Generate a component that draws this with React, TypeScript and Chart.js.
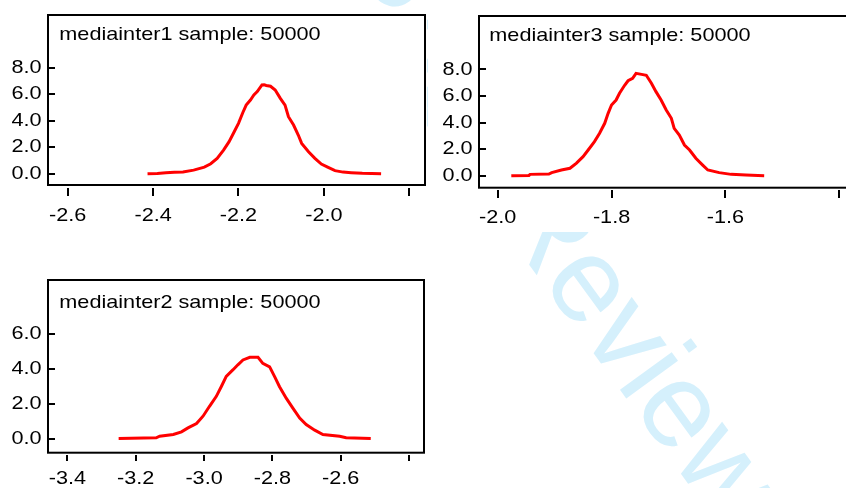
import React, { useEffect, useRef } from "react";
import { Chart, registerables } from "chart.js";

Chart.register(...registerables);

const FONT_FAMILY = '"Liberation Sans", Arial, Helvetica, sans-serif';
const FONT_SIZE = 19;
const TEXT_STRETCH = 1.14;

// ---------- data ----------
const inter1Title = "mediainter1 sample: 50000";
const inter1X = [-2.413, -2.39, -2.37, -2.35, -2.33, -2.305, -2.28, -2.265, -2.25, -2.235, -2.222, -2.21, -2.2, -2.19, -2.182, -2.172, -2.164, -2.156, -2.145, -2.14, -2.135, -2.125, -2.114, -2.102, -2.091, -2.083, -2.071, -2.06, -2.052, -2.036, -2.021, -2.006, -1.99, -1.974, -1.955, -1.936, -1.91, -1.866];
const inter1Y = [0, 0.02, 0.08, 0.1, 0.13, 0.27, 0.5, 0.75, 1.15, 1.78, 2.42, 3.17, 3.8, 4.6, 5.18, 5.56, 5.94, 6.2, 6.7, 6.72, 6.66, 6.6, 6.32, 5.69, 5.18, 4.3, 3.67, 2.92, 2.29, 1.66, 1.16, 0.73, 0.48, 0.23, 0.12, 0.08, 0.03, 0];
const inter1XTicks = [-2.6, -2.4, -2.2, -2.0, -1.8];
const inter1YTicks = [0, 2, 4, 6, 8];

const inter3Title = "mediainter3 sample: 50000";
const inter3X = [-1.976, -1.945, -1.943, -1.91, -1.905, -1.888, -1.873, -1.862, -1.85, -1.841, -1.83, -1.821, -1.812, -1.806, -1.8, -1.792, -1.786, -1.777, -1.771, -1.763, -1.757, -1.745, -1.739, -1.73, -1.722, -1.713, -1.704, -1.695, -1.69, -1.681, -1.672, -1.663, -1.652, -1.64, -1.631, -1.611, -1.59, -1.564, -1.532];
const inter3Y = [0, 0.02, 0.1, 0.12, 0.23, 0.43, 0.56, 0.93, 1.43, 1.93, 2.56, 3.19, 3.94, 4.69, 5.32, 5.69, 6.2, 6.8, 7.14, 7.32, 7.7, 7.6, 7.55, 6.95, 6.32, 5.69, 4.94, 4.32, 3.56, 3.06, 2.31, 1.93, 1.31, 0.8, 0.43, 0.23, 0.1, 0.05, 0];
const inter3XTicks = [-2.0, -1.8, -1.6, -1.4];
const inter3YTicks = [0, 2, 4, 6, 8];

const inter2Title = "mediainter2 sample: 50000";
const inter2X = [-3.25, -3.14, -3.13, -3.09, -3.066, -3.047, -3.022, -3.003, -2.984, -2.964, -2.949, -2.935, -2.915, -2.901, -2.886, -2.866, -2.842, -2.828, -2.808, -2.793, -2.779, -2.759, -2.74, -2.72, -2.701, -2.676, -2.652, -2.603, -2.584, -2.512];
const inter2Y = [0, 0.04, 0.13, 0.23, 0.38, 0.61, 0.86, 1.28, 1.85, 2.42, 3.0, 3.57, 3.95, 4.23, 4.51, 4.66, 4.66, 4.31, 4.11, 3.54, 2.97, 2.3, 1.74, 1.17, 0.8, 0.48, 0.23, 0.13, 0.04, 0];
const inter2XTicks = [-3.4, -3.2, -3.0, -2.8, -2.6, -2.4];
const inter2YTicks = [0, 2, 4, 6];

const watermarkText = "For Peer Review";

// ---------- layout ----------
type PanelSpec = {
  title: string;
  xs: number[];
  ys: number[];
  xTicks: number[];
  yTicks: number[];
  left: number;
  top: number;
  w: number;
  h: number;
  yAxisW: number;
  padTop: number;
  padRight: number;
  padBottom: number;
  xAxisH: number;
  xMin: number;
  xMax: number;
  yMin: number;
  yMax: number;
  boxGap: number;
  xTickLen: number;
  xLabelPad: number;
  titleX: number;
  titleY: number;
};

const panels: PanelSpec[] = [
  {
    title: inter1Title, xs: inter1X, ys: inter1Y, xTicks: inter1XTicks, yTicks: inter1YTicks,
    left: 0, top: 14, w: 427, h: 218,
    yAxisW: 48, padTop: 1, padRight: 2, padBottom: 4, xAxisH: 40,
    xMin: -2.6461, xMax: -1.7632, yMin: -1.08, yMax: 11.98,
    boxGap: 3, xTickLen: 8, xLabelPad: 8.6, titleX: 59.3, titleY: 25.5,
  },
  {
    title: inter3Title, xs: inter3X, ys: inter3Y, xTicks: inter3XTicks, yTicks: inter3YTicks,
    left: 428, top: 15, w: 440, h: 217,
    yAxisW: 51, padTop: 1, padRight: 12, padBottom: 2, xAxisH: 40,
    xMin: -2.0327, xMax: -1.3708, yMin: -1.075, yMax: 12.008,
    boxGap: 2.3, xTickLen: 8, xLabelPad: 8.6, titleX: 61.3, titleY: 25.7,
  },
  {
    title: inter2Title, xs: inter2X, ys: inter2Y, xTicks: inter2XTicks, yTicks: inter2YTicks,
    left: 0, top: 277, w: 427, h: 211,
    yAxisW: 48, padTop: 3, padRight: 3, padBottom: 3, xAxisH: 30,
    xMin: -3.4568, xMax: -2.3561, yMin: -0.947, yMax: 9.099,
    boxGap: 2.3, xTickLen: 6, xLabelPad: 5.9, titleX: 59.3, titleY: 30.5,
  },
];

function stretchText(ctx: any) {
  if (ctx.__stretched) return;
  const orig = ctx.fillText.bind(ctx);
  ctx.fillText = (text: string, x: number, y: number) => {
    ctx.save();
    ctx.translate(x, y);
    ctx.scale(TEXT_STRETCH, 1);
    orig(text, 0, 0);
    ctx.restore();
  };
  ctx.__stretched = true;
}

function Panel({ spec }: { spec: PanelSpec }) {
  const ref = useRef<HTMLCanvasElement>(null);
  useEffect(() => {
    const canvas = ref.current!;
    const ctx = canvas.getContext("2d")!;
    stretchText(ctx);
    const framePlugin = {
      id: "frame",
      afterDraw(chart: any) {
        const c = chart.ctx;
        const a = chart.chartArea;
        c.save();
        c.strokeStyle = "#000";
        c.lineWidth = 2;
        c.strokeRect(a.left, a.top, a.right - a.left, a.bottom - spec.boxGap - a.top);
        c.fillStyle = "#000";
        c.font = `${FONT_SIZE}px ${FONT_FAMILY}`;
        c.textAlign = "left";
        c.textBaseline = "alphabetic";
        c.fillText(spec.title, spec.titleX, spec.titleY);
        c.restore();
      },
    };
    const tickFont = { size: FONT_SIZE, family: FONT_FAMILY };
    const zeroPad = (s: any) => {
      s.paddingTop = 0;
      s.paddingBottom = 0;
      s.paddingLeft = 0;
      s.paddingRight = 0;
    };
    const chart = new Chart(ctx, {
      type: "line",
      data: {
        datasets: [
          {
            data: spec.xs.map((x, i) => ({ x, y: spec.ys[i] })),
            borderColor: "#ff0000",
            borderWidth: 3,
            pointRadius: 0,
            tension: 0,
            fill: false,
          },
        ],
      },
      options: {
        responsive: false,
        animation: false,
        events: [],
        layout: {
          autoPadding: false,
          padding: { left: 0, top: spec.padTop, right: spec.padRight, bottom: spec.padBottom },
        },
        plugins: {
          legend: { display: false },
          tooltip: { enabled: false },
          title: { display: false },
        },
        scales: {
          x: {
            type: "linear",
            position: "bottom",
            min: spec.xMin,
            max: spec.xMax,
            border: { display: false },
            grid: {
              display: true,
              drawOnChartArea: false,
              drawTicks: true,
              tickLength: spec.xTickLen,
              color: "#000",
              lineWidth: 2,
            },
            ticks: {
              color: "#000",
              font: tickFont,
              padding: spec.xLabelPad,
              autoSkip: false,
              maxRotation: 0,
              minRotation: 0,
              callback: (v: any, i: number, arr: any[]) =>
                i === arr.length - 1 ? "" : Number(v).toFixed(1),
            },
            afterBuildTicks: (s: any) => {
              s.ticks = spec.xTicks.map((v) => ({ value: v }));
            },
            afterFit: (s: any) => {
              s.height = spec.xAxisH;
              zeroPad(s);
            },
          },
          y: {
            type: "linear",
            position: "left",
            min: spec.yMin,
            max: spec.yMax,
            border: { display: false },
            grid: {
              display: true,
              drawOnChartArea: false,
              drawTicks: true,
              tickLength: -7,
              color: "#000",
              lineWidth: 2,
            },
            ticks: {
              color: "#000",
              font: tickFont,
              padding: 13.5,
              autoSkip: false,
              callback: (v: any) => Number(v).toFixed(1),
            },
            afterBuildTicks: (s: any) => {
              s.ticks = spec.yTicks.map((v) => ({ value: v }));
            },
            afterFit: (s: any) => {
              s.width = spec.yAxisW;
              zeroPad(s);
            },
          },
        },
      } as any,
      plugins: [framePlugin],
    });
    return () => chart.destroy();
  }, [spec]);
  return (
    <canvas
      ref={ref}
      width={spec.w}
      height={spec.h}
      style={{
        position: "absolute",
        left: spec.left,
        top: spec.top,
        width: spec.w,
        height: spec.h,
        background: "#fff",
      }}
    />
  );
}

export default function App() {
  return (
    <div
      style={{
        position: "fixed",
        left: 0,
        top: 0,
        width: 846,
        height: 488,
        overflow: "hidden",
        background: "#fff",
      }}
    >
      <div
        style={{
          position: "absolute",
          left: 192,
          top: -301.4,
          fontFamily: FONT_FAMILY,
          fontSize: 121,
          lineHeight: "121px",
          color: "rgb(213,240,252)",
          whiteSpace: "nowrap",
          transform: "rotate(54deg)",
          transformOrigin: "0px 102.4px",
        }}
      >
        {watermarkText}
      </div>
      {panels.map((p, i) => (
        <Panel key={i} spec={p} />
      ))}
    </div>
  );
}
